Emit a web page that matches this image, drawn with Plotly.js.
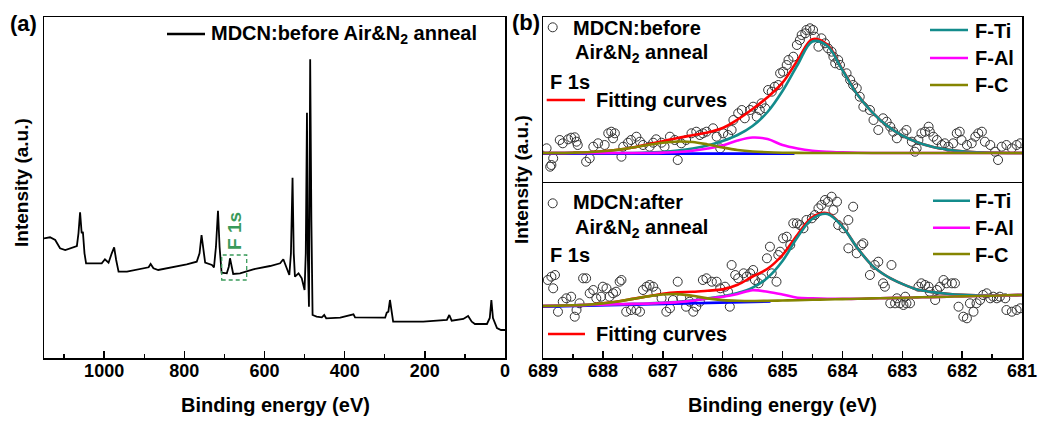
<!DOCTYPE html>
<html><head><meta charset="utf-8">
<script src="https://cdn.plot.ly/plotly-3.0.1.min.js"></script>
<style>html,body{margin:0;padding:0;background:#fff}</style>
</head><body><div id="chart" style="width:1043px;height:424px"></div>
<script>
// ---- (a) survey spectrum ----
const surveyEnergy = [1150,1135,1122,1110,1097,1081,1068,1064,1060,1056,1053,1049,1045,1027,1006,998,989,981,975,970,964,943,910,889,884,877,865,827,794,769,762,757,752,748,731,726,721,716,712,707,694,689,686,682,678,661,628,586,561,553,546,538,534,530,527,524,515,507,500,497,494,492,489,486,483,480,470,457,451,446,411,378,374,328,299,295,291,287,283,279,245,204,145,139,133,104,92,83,75,62,45,38,34,30,20,10,0];
const surveyIntensity = [119.7,120.7,118,109.7,108,110.3,112,124.7,145.7,124.7,126.3,104.7,94.7,94.7,94.7,98.7,95.3,104.7,110.7,98,86.3,86.3,88.7,90.7,94,89.7,88,90.7,93.7,96.3,104.7,123,104.7,95.3,93,90.7,111.3,147.3,111.3,85.3,84.7,91.3,99.7,89.7,84,84.7,88.7,92,94.7,98.7,91.3,83,104.7,180.3,104.7,81.3,84.7,79.7,68,104.7,245.3,104.7,51.3,298.7,138,43,41.3,40.7,43,39.7,40.3,43.7,40.7,40.7,40.3,45.3,46.3,58,44.7,36.3,36.3,36.3,38,43,37.3,39,42,36.3,34,34,34,40,58,40,30,28,28];

// ---- (b) F 1s fits, common energy grid ----
const fitEnergy = [689,688.75,688.5,688.25,688,687.75,687.5,687.25,687,686.75,686.5,686.25,686,685.75,685.5,685.25,685,684.75,684.5,684.25,684,683.75,683.5,683.25,683,682.75,682.5,682.25,682,681.75,681.5,681.25,681];

// before anneal
const beforeFTi = [30,30,30,30,30,30,30,30.5,31.2,32.5,34.5,37.5,42,48,57,71,92,118,141.5,137,113,88.5,70.7,57.1,47.5,40.7,36.2,33.4,31.6,30.7,30.2,30,30];
const beforeFAl = [30,30,30,30,30,30,30,30,30.4,31.0,32.3,34.5,37.5,42.5,45.5,44,38,34.5,32.3,31.2,30.6,30.2,30,30,30,30,30,30,30,30,30,30,30];
const beforeFC  = [30,30,30.3,30.8,31.8,33.3,35.5,38,40.2,41.5,41,38.5,35.5,33,31.5,30.7,30.3,30.1,30,30,30,30,30,30,30,30,30,30,30,30,30,30,30];
const beforeFit = [30,30,30.3,30.8,31.8,33.3,35.5,38.5,41.8,45,47.8,50.5,55,63.5,74,85.7,100.3,122.6,143.8,138.2,113.6,88.7,70.7,57.1,47.5,40.7,36.2,33.4,31.6,30.7,30.2,30,30];
const beforeBgEnergy = [689,684.8];
const beforeBg = [29.4,29.4];
const beforePointEnergy = [688.94,688.88,688.83,688.86,688.72,688.67,688.58,688.53,688.47,688.44,688.42,688.28,688.22,688.16,688.08,687.97,687.91,687.86,687.80,687.83,687.69,687.66,687.58,687.53,687.44,687.38,687.33,687.22,687.16,687.11,687.02,686.97,686.88,686.80,686.75,686.69,686.61,686.52,686.44,686.38,686.33,686.27,
 686.16,686.10,686.04,685.99,685.91,685.85,685.82,685.74,685.68,685.63,685.54,685.49,685.43,685.38,685.35,685.29,685.24,685.18,685.13,685.07,685.04,684.99,684.93,684.90,684.82,684.76,684.71,684.68,684.62,684.60,684.54,684.49,684.46,684.40,684.35,684.29,684.24,684.18,684.15,684.12,684.07,684.04,683.93,683.87,683.82,683.76,683.71,683.65,
 683.54,683.48,683.40,683.32,683.26,683.20,683.15,683.09,682.98,682.93,682.84,682.79,682.76,682.73,682.68,682.62,682.56,682.54,682.48,682.42,682.34,682.29,682.23,682.15,682.09,682.04,682.01,681.92,681.84,681.78,681.73,681.67,681.62,681.53,681.45,681.40,681.34,681.26,681.17,681.09,681.03];
const beforePointIntensity = [34.7,16.3,24.7,18,43,39.7,43.7,45.3,45.7,41.3,38,21.3,24.7,36.3,39.7,38,49.7,51.3,49.7,44.7,26.3,36.3,40.3,43,46.3,41.3,38,36.3,40.3,43.7,40.3,36.3,46.3,43,23,39.7,43,49.7,51.3,48,49.7,51.3,
 54.7,46.3,34.7,49.7,48,53,63,69.7,73,64.7,73,76.3,66.3,73,79.7,74.7,93,91.3,96.3,98,109.7,111.3,118,123,126.3,138,143,148,149.7,153,154.7,153,146.3,136.3,144.7,139.7,134.7,131.3,126.3,119.7,123,118,109.7,103,98,94.7,86.3,76.3,
 73,63,53,64.7,61.3,56.3,51.3,44.7,49.7,53,41.3,31.3,34.7,43,49.7,51.3,56.3,51.3,46.3,43,38,39.7,36.3,39.7,49.7,51.3,43,38,39.7,46.3,49.7,51.3,41.3,38,31.3,23,36.3,38,34.7,38,39.7];

// after anneal
const afterFTi = [52.0,52.3,52.7,53.0,53.4,53.7,54.1,54.5,55.3,56.2,57.6,59.8,61.6,65.0,70.3,80.2,97.0,120.8,139.3,144.0,131.4,110.1,92.4,81.5,74.1,68.4,65.9,64.2,63.1,62.7,62.6,62.7,63.0];
const afterFAl = [52.0,52.3,52.7,53.0,53.4,53.7,54.1,54.4,55.1,55.9,57.2,59.5,61.3,64.0,67.8,66.2,63.5,60.3,59.7,59.3,59.2,59.2,59.6,59.9,60.3,60.6,60.9,61.3,61.6,62.0,62.3,62.7,63.0];
const afterFC  = [52.0,52.3,52.7,53.3,54.6,56.5,59.1,61.6,63.5,63.9,62.2,59.6,57.9,57.2,57.0,57.2,57.5,57.8,58.2,58.5,58.9,59.2,59.6,59.9,60.3,60.6,60.9,61.3,61.6,62.0,62.3,62.7,63.0];
const afterFit = [52.0,52.3,52.7,53.3,54.6,56.5,59.1,61.7,64.3,65.8,66.2,67.3,68.6,73.2,81.5,89.2,103.0,123.3,140.8,144.8,131.7,110.1,92.4,81.5,74.1,68.4,65.9,64.2,63.1,62.7,62.6,62.7,63.0];
const afterBgEnergy = [689,685.2];
const afterBg = [51.3,56.5];
const afterPointEnergy = [688.92,688.86,688.80,688.83,688.75,688.67,688.61,688.53,688.44,688.47,688.39,688.33,688.28,688.22,688.16,688.11,688.03,688.00,687.94,687.89,687.83,687.78,687.72,687.69,687.61,687.53,687.44,687.38,687.33,687.27,687.22,687.16,687.11,687.02,686.94,686.88,686.83,686.75,686.69,686.61,686.55,686.49,686.44,686.38,686.33,686.27,
 686.18,686.10,686.04,685.96,685.91,685.88,685.85,685.79,685.74,685.65,685.60,685.54,685.49,685.46,685.40,685.35,685.26,685.21,685.18,685.10,685.07,685.04,684.99,684.93,684.87,684.82,684.76,684.71,684.65,684.60,684.51,684.46,684.40,684.35,684.29,684.24,684.18,684.15,684.09,684.07,683.98,683.90,683.82,683.90,683.76,683.68,683.65,
 683.54,683.46,683.40,683.18,683.32,683.29,683.20,683.12,683.09,683.04,682.98,682.93,682.87,682.95,682.73,682.68,682.62,682.56,682.54,682.45,682.42,682.37,682.31,682.26,682.17,682.12,682.06,681.98,681.92,681.87,681.81,681.76,681.70,681.65,681.59,681.53,681.48,681.42,681.37,681.28,681.26,681.17,681.09,681.03];
const afterPointIntensity = [78,81.3,83,69.7,46.3,56.3,59.7,61.3,48,41.3,54.7,79.7,79.7,64.7,68,59.7,61.3,71.3,69.7,61.3,64.7,66.3,76.3,78,46.3,48,48,46.3,68,71.3,73,71.3,66.3,59.7,46.3,49.7,58,76.3,59.7,51.3,56.3,46.3,51.3,56.3,78,79.7,
 76.3,76.3,69.7,71.3,66.3,51.3,93,83,79.7,84.7,81.3,84.7,88,78,74.7,79.7,99.7,111.3,84.7,76.3,103,106.3,119.7,121.3,113,134.7,134.7,133,129.7,138,139.7,143,149.7,153,158,156.3,161.3,148,156.3,133,129.7,138,151.3,109.7,104.7,113,114.7,
 83,93,96.3,93,74.7,71.3,54.7,54.7,59.7,54.7,53,54.7,54.7,61.3,71.3,74.7,73,71.3,66.3,58,68,71.3,78,74.7,74.7,74.7,51.3,41.3,39.7,54.7,46.3,54.7,58,63,64.7,59.7,61.3,59.7,61.3,59.7,48,46.3,48,49.7];

// ---- colours ----
const C_TI = '#138c8c', C_AL = '#ff00ff', C_C = '#858500', C_FIT = '#ff0000', C_BG = '#0000ff';
const FONT = 'Liberation Sans, Arial, Helvetica, sans-serif';
const W = 1043, H = 424;
const px = x => x / W, py = y => 1 - y / H;

function fitLine(x, y, color, xa, ya) {
  return {x, y, xaxis: xa, yaxis: ya, mode: 'lines', type: 'scatter', hoverinfo: 'skip',
    line: {color, width: 2.6, shape: 'spline', smoothing: 1}, showlegend: false};
}
function pts(x, y, xa, ya) {
  return {x, y, xaxis: xa, yaxis: ya, mode: 'markers', type: 'scatter', showlegend: false,
    marker: {symbol: 'circle-open', size: 9, color: '#333', line: {width: 1}}};
}

const data = [
  {x: surveyEnergy, y: surveyIntensity, xaxis: 'x', yaxis: 'y', mode: 'lines', type: 'scatter',
   line: {color: '#000', width: 1.8}, showlegend: false},
  pts(beforePointEnergy, beforePointIntensity, 'x2', 'y2'),
  {x: beforeBgEnergy, y: beforeBg, xaxis: 'x2', yaxis: 'y2', mode: 'lines', line: {color: C_BG, width: 2.6}, showlegend: false},
  fitLine(fitEnergy, beforeFit, C_FIT, 'x2', 'y2'),
  fitLine(fitEnergy, beforeFTi, C_TI, 'x2', 'y2'),
  fitLine(fitEnergy, beforeFAl, C_AL, 'x2', 'y2'),
  fitLine(fitEnergy, beforeFC, C_C, 'x2', 'y2'),
  pts(afterPointEnergy, afterPointIntensity, 'x3', 'y3'),
  {x: afterBgEnergy, y: afterBg, xaxis: 'x3', yaxis: 'y3', mode: 'lines', line: {color: C_BG, width: 2.6}, showlegend: false},
  fitLine(fitEnergy, afterFit, C_FIT, 'x3', 'y3'),
  fitLine(fitEnergy, afterFTi, C_TI, 'x3', 'y3'),
  fitLine(fitEnergy, afterFAl, C_AL, 'x3', 'y3'),
  fitLine(fitEnergy, afterFC, C_C, 'x3', 'y3')
];

const tickFont = {family: FONT, size: 18, color: '#000', weight: 'bold'};
const frame = {showline: true, mirror: true, linecolor: '#000', linewidth: 1.5, showgrid: false, zeroline: false};

function txt(t, x, y, size, extra) {
  return Object.assign({text: '<b>' + t + '</b>', xref: 'paper', yref: 'paper', x: px(x), y: py(y),
    xanchor: 'left', yanchor: 'middle', showarrow: false,
    font: {family: FONT, size: size, color: '#000'}}, extra || {});
}
function hline(x0, x1, y, color) {
  return {type: 'line', xref: 'paper', yref: 'paper', x0: px(x0), x1: px(x1), y0: py(y), y1: py(y),
    line: {color, width: 2.6}};
}
function ring(x, y) {
  return {type: 'circle', xref: 'paper', yref: 'paper', xsizemode: 'pixel', ysizemode: 'pixel',
    xanchor: px(x), yanchor: py(y), x0: -4.5, x1: 4.5, y0: -4.5, y1: 4.5, line: {color: '#333', width: 1}};
}

const annotations = [
  txt('(a)', 8, 24, 22),
  txt('(b)', 510, 23, 22),
  txt('Intensity (a.u.)', 21, 183, 19, {xanchor: 'center', textangle: -90}),
  txt('Intensity (a.u.)', 521, 180, 19, {xanchor: 'center', textangle: -90}),
  txt('Binding energy (eV)', 275, 405, 20, {xanchor: 'center'}),
  txt('Binding energy (eV)', 782, 405, 20, {xanchor: 'center'}),
  txt('MDCN:before Air&amp;N<sub>2</sub> anneal', 209, 34, 20),
  txt('F 1s', 235, 231, 19, {xanchor: 'center', textangle: -90, font: {family: FONT, size: 19, color: '#3a9a5a'}}),
  // top panel (b)
  txt('MDCN:before', 571, 27.5, 20),
  txt('Air&amp;N<sub>2</sub> anneal', 573, 53.5, 20),
  txt('F 1s', 548, 81.5, 20),
  txt('Fitting curves', 594, 100, 20),
  txt('F-Ti', 973, 31, 20),
  txt('F-Al', 973, 58.5, 20),
  txt('F-C', 973, 85.5, 20),
  // bottom panel (b)
  txt('MDCN:after', 571, 202, 20),
  txt('Air&amp;N<sub>2</sub> anneal', 573, 228.5, 20),
  txt('F 1s', 548, 255, 20),
  txt('Fitting curves', 594, 334, 20),
  txt('F-Ti', 973, 201, 20),
  txt('F-Al', 973, 228, 20),
  txt('F-C', 973, 254.5, 20)
];

const shapes = [
  hline(167, 205, 34, '#000'),
  {type: 'rect', xref: 'paper', yref: 'paper', x0: px(221.7), x1: px(246.7), y0: py(280), y1: py(255),
   line: {color: '#3a9a5a', width: 1.3, dash: '4px,3px'}},
  ring(552.7, 27.3), hline(546.7, 585, 100, C_FIT),
  hline(930, 968, 30, C_TI), hline(930, 968, 58, C_AL), hline(930, 968, 85, C_C),
  ring(552.7, 203.3), hline(548, 585, 334, C_FIT),
  hline(933, 970, 200.7, C_TI), hline(933, 970, 227.7, C_AL), hline(933, 970, 254, C_C)
];

const layout = {
  width: W, height: H, margin: {l: 0, r: 0, t: 0, b: 0},
  paper_bgcolor: '#fff', plot_bgcolor: '#fff', showlegend: false,
  xaxis: Object.assign({}, frame, {domain: [px(44), px(505)], range: [1150, 0], anchor: 'y',
    tickmode: 'linear', tick0: 0, dtick: 200, ticks: 'inside', ticklen: 7, tickwidth: 1.5, tickcolor: '#000',
    minor: {dtick: 100, tick0: 0, ticks: 'inside', ticklen: 4, tickwidth: 1.2, tickcolor: '#000'},
    tickfont: tickFont, ticklabelstandoff: -4}),
  yaxis: Object.assign({}, frame, {domain: [py(358), py(17)], range: [0, 341], anchor: 'x',
    showticklabels: false, ticks: ''}),
  xaxis2: Object.assign({}, frame, {domain: [px(543), px(1022)], range: [689, 681], anchor: 'y2',
    side: 'top', mirror: false, showticklabels: false, ticks: ''}),
  yaxis2: Object.assign({}, frame, {domain: [py(183), py(17)], range: [0, 166], anchor: 'x2',
    showticklabels: false, ticks: ''}),
  xaxis3: Object.assign({}, frame, {domain: [px(543), px(1022)], range: [689, 681], anchor: 'y3',
    tickmode: 'linear', tick0: 681, dtick: 1, ticks: 'inside', ticklen: 7, tickwidth: 1.5, tickcolor: '#000',
    minor: {dtick: 0.5, tick0: 681, ticks: 'inside', ticklen: 4, tickwidth: 1.2, tickcolor: '#000'},
    tickfont: tickFont, ticklabelstandoff: -4}),
  yaxis3: Object.assign({}, frame, {domain: [py(358), py(183)], range: [0, 175], anchor: 'x3',
    showticklabels: false, ticks: ''}),
  annotations, shapes
};

Plotly.newPlot('chart', data, layout, {displayModeBar: false, staticPlot: true});
</script></body></html>
